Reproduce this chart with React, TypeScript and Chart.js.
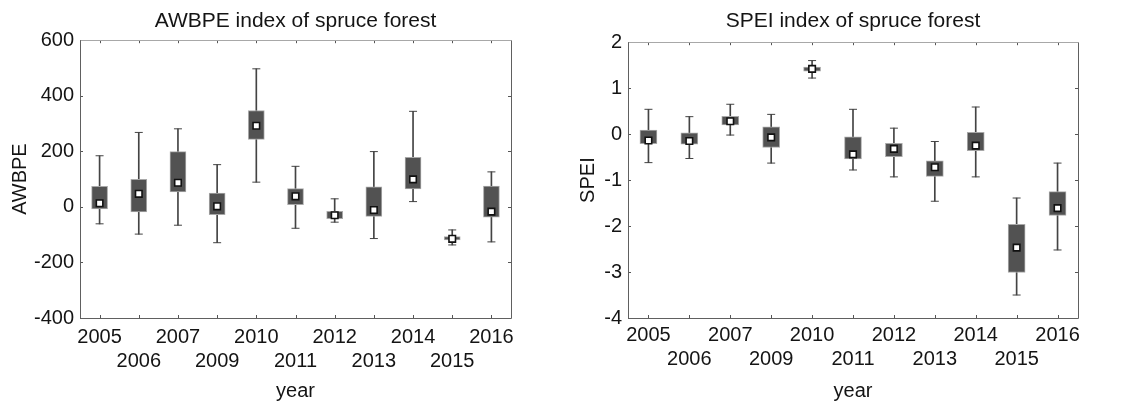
import React, { useEffect, useRef } from "react";
import { Chart, registerables } from "chart.js";

Chart.register(...registerables);

const years = ["2005", "2006", "2007", "2009", "2010", "2011", "2012", "2013", "2014", "2015", "2016"];

// AWBPE
const awMin = [-61, -98, -66, -129, 89, -77, -55, -114, 19, -137, -126];
const awQ1 = [-7, -18, 54, -28, 243, 8, -42, -34, 65, -119, -37];
const awMed = [13, 47, 87, 2, 292, 38, -30, -11, 99, -115, -17];
const awQ3 = [74, 99, 199, 50, 347, 66, -16, 72, 178, -107, 75];
const awMax = [184, 268, 281, 152, 497, 146, 29, 199, 344, -83, 126];
const awTicks = [-400, -200, 0, 200, 400, 600];

// SPEI
const spMin = [-0.62, -0.53, -0.02, -0.63, 1.22, -0.78, -0.93, -1.46, -0.93, -3.5, -2.52];
const spQ1 = [-0.21, -0.22, 0.2, -0.29, 1.37, -0.54, -0.49, -0.92, -0.36, -3.01, -1.77];
const spMed = [-0.14, -0.15, 0.28, -0.07, 1.42, -0.44, -0.32, -0.72, -0.25, -2.47, -1.61];
const spQ3 = [0.09, 0.03, 0.39, 0.16, 1.46, -0.06, -0.2, -0.58, 0.04, -1.96, -1.25];
const spMax = [0.54, 0.38, 0.65, 0.43, 1.6, 0.54, 0.13, -0.16, 0.59, -1.39, -0.63];
const spTicks = [-4, -3, -2, -1, 0, 1, 2];

const FONT = "'Liberation Sans', Arial, sans-serif";
const TXT = "#141414";

const framePlugin = {
  id: "frame",
  afterDatasetsDraw(chart: any) {
    const { ctx, chartArea: a, scales } = chart;
    const x = scales.x;
    const y = scales.y;
    ctx.save();
    ctx.lineWidth = 1;
    ctx.strokeStyle = "#555";
    ctx.beginPath();
    for (let i = 0; i < x.ticks.length; i++) {
      const px = Math.round(x.getPixelForTick(i)) + 0.5;
      ctx.moveTo(px, a.bottom);
      ctx.lineTo(px, a.bottom - 3);
      ctx.moveTo(px, a.top);
      ctx.lineTo(px, a.top + 3);
    }
    for (let i = 0; i < y.ticks.length; i++) {
      const py = Math.round(y.getPixelForTick(i)) + 0.5;
      ctx.moveTo(a.left, py);
      ctx.lineTo(a.left + 3, py);
      ctx.moveTo(a.right, py);
      ctx.lineTo(a.right - 3, py);
    }
    ctx.stroke();
    const l = Math.round(a.left) + 0.5;
    const r = Math.round(a.right) + 0.5;
    const t = Math.round(a.top) + 0.5;
    const b = Math.round(a.bottom) + 0.5;
    ctx.strokeStyle = "#a8a8a8";
    ctx.beginPath();
    ctx.moveTo(l, t);
    ctx.lineTo(r, t);
    ctx.stroke();
    ctx.strokeStyle = "#606060";
    ctx.beginPath();
    ctx.moveTo(l, t);
    ctx.lineTo(l, b);
    ctx.lineTo(r, b);
    ctx.lineTo(r, t);
    ctx.stroke();
    ctx.restore();
  },
};

type Cfg = {
  title: string;
  yTitle: string;
  min: number[];
  q1: number[];
  med: number[];
  q3: number[];
  max: number[];
  ticks: number[];
  yMin: number;
  yMax: number;
  yWidth: number;
  padRight: number;
  titlePadBottom: number;
  yTitlePad: number;
  xTickPad: number;
  boxWidth: number;
};

function BoxChart({ cfg, width }: { cfg: Cfg; width: number }) {
  const ref = useRef<HTMLCanvasElement | null>(null);
  useEffect(() => {
    if (!ref.current) return;
    const labels = years.map((yr, i) => (i % 2 === 0 ? [yr, ""] : ["", yr]));
    const chart = new Chart(ref.current, {
      type: "bar",
      data: {
        labels: labels as any,
        datasets: [
          {
            type: "line",
            label: "median",
            data: cfg.med,
            showLine: false,
            pointStyle: "rect",
            pointRadius: 4.6,
            pointBackgroundColor: "#ffffff",
            pointBorderColor: "#111111",
            pointBorderWidth: 1.6,
            order: 0,
          } as any,
          {
            type: "line",
            label: "max",
            data: cfg.max,
            showLine: false,
            pointStyle: "line",
            pointRadius: 4,
            pointBorderColor: "#444444",
            pointBorderWidth: 1,
            order: 1,
          } as any,
          {
            type: "line",
            label: "min",
            data: cfg.min,
            showLine: false,
            pointStyle: "line",
            pointRadius: 4,
            pointBorderColor: "#444444",
            pointBorderWidth: 1,
            order: 1,
          } as any,
          {
            type: "bar",
            label: "box",
            data: cfg.q1.map((v, i) => [v, cfg.q3[i]]),
            backgroundColor: "#525252",
            borderColor: "#a8a8a8",
            borderWidth: 1,
            borderSkipped: false,
            barThickness: cfg.boxWidth,
            grouped: false,
            order: 2,
          } as any,
          {
            type: "bar",
            label: "whisker",
            data: cfg.min.map((v, i) => [v, cfg.max[i]]),
            backgroundColor: "#444444",
            borderWidth: 0,
            barThickness: 1,
            grouped: false,
            order: 3,
          } as any,
        ],
      },
      options: {
        responsive: false,
        animation: false,
        events: [],
        layout: { padding: { left: 0, right: cfg.padRight, top: 0, bottom: 0 } },
        plugins: {
          legend: { display: false },
          tooltip: { enabled: false },
          title: {
            display: true,
            fullSize: false,
            text: cfg.title,
            color: TXT,
            font: { family: FONT, size: 21, weight: "normal", lineHeight: 1.2 },
            padding: { top: 9, bottom: cfg.titlePadBottom },
          },
        },
        scales: {
          x: {
            type: "category",
            offset: true,
            grid: { display: false, drawTicks: false },
            border: { display: false },
            ticks: {
              autoSkip: false,
              maxRotation: 0,
              minRotation: 0,
              color: TXT,
              padding: cfg.xTickPad,
              font: { family: FONT, size: 20, lineHeight: 1.17 },
            },
            title: {
              display: true,
              text: "year",
              color: TXT,
              font: { family: FONT, size: 20, lineHeight: 1.2 },
              padding: { top: 0, bottom: 0 },
            },
            afterFit: (s: any) => {
              s.height = 85;
            },
          },
          y: {
            type: "linear",
            min: cfg.yMin,
            max: cfg.yMax,
            grid: { display: false, drawTicks: false },
            border: { display: false },
            afterBuildTicks: (s: any) => {
              s.ticks = cfg.ticks.map((v) => ({ value: v }));
            },
            ticks: {
              color: TXT,
              padding: 6,
              font: { family: FONT, size: 20, lineHeight: 1.2 },
            },
            title: {
              display: true,
              text: cfg.yTitle,
              color: TXT,
              font: { family: FONT, size: 20, lineHeight: 1.2 },
              padding: { top: cfg.yTitlePad, bottom: 0 },
            },
            afterFit: (s: any) => {
              s.width = cfg.yWidth;
            },
          },
        },
      },
      plugins: [framePlugin],
    });
    return () => chart.destroy();
  }, [cfg]);
  return <canvas ref={ref} width={width} height={403} style={{ display: "block", width, height: 403 }} />;
}

const leftCfg: Cfg = {
  title: "AWBPE index of spruce forest",
  yTitle: "AWBPE",
  min: awMin,
  q1: awQ1,
  med: awMed,
  q3: awQ3,
  max: awMax,
  ticks: awTicks,
  yMin: -400,
  yMax: 600,
  yWidth: 80,
  padRight: 49,
  titlePadBottom: 6,
  yTitlePad: 8.5,
  xTickPad: 8,
  boxWidth: 16,
};

const rightCfg: Cfg = {
  title: "SPEI index of spruce forest",
  yTitle: "SPEI",
  min: spMin,
  q1: spQ1,
  med: spMed,
  q3: spQ3,
  max: spMax,
  ticks: spTicks,
  yMin: -4,
  yMax: 2,
  yWidth: 68,
  padRight: 43,
  titlePadBottom: 8,
  yTitlePad: 16,
  xTickPad: 6,
  boxWidth: 17,
};

export default function App() {
  return (
    <div style={{ position: "absolute", left: 0, top: 0, width: 1121, height: 403, background: "#fff", display: "flex" }}>
      <BoxChart cfg={leftCfg} width={560} />
      <BoxChart cfg={rightCfg} width={561} />
    </div>
  );
}
